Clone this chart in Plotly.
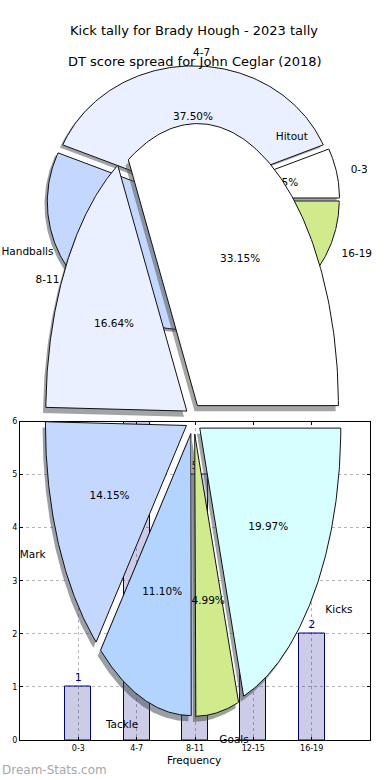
import numpy as np
import plotly.graph_objects as go

# ---------------- data ----------------
bar_categories = ["0-3", "4-7", "8-11", "12-15", "16-19"]
bar_values = [1, 6, 5, 2, 2]

dt_labels = ["0-3", "4-7", "8-11", "12-15", "16-19"]
dt_values = [1, 6, 5, 2, 2]

stat_labels = ["Hitout", "Handballs", "Mark", "Tackle", "Goals", "Kicks"]
stat_values = [33.15, 16.64, 14.15, 11.10, 4.99, 19.97]

title_main = "Kick tally for Brady Hough - 2023 tally"
title_pie = "DT score spread for John Ceglar (2018)"
x_title = "Frequency"
watermark = "Dream-Stats.com"

wedge_colors = ["#ffffff", "#eaf0ff", "#c4d8ff", "#b3d4ff", "#d0ea8c", "#d8ffff"]

FONT = "DejaVu Sans"
W, H = 390, 780

fig = go.Figure()

# ---------------- bar chart (bottom axes) ----------------
fig.add_trace(go.Bar(
    x=bar_categories, y=bar_values, width=0.45,
    marker=dict(color="rgba(0,0,128,0.2)", line=dict(color="#000080", width=1)),
    hoverinfo="skip", showlegend=False, xaxis="x", yaxis="y"))
fig.add_trace(go.Scatter(
    x=bar_categories, y=[v + 0.06 for v in bar_values], mode="text",
    text=[str(v) for v in bar_values], textposition="top center",
    textfont=dict(family=FONT, size=11, color="#000080"),
    cliponaxis=False, showlegend=False, hoverinfo="skip", xaxis="x", yaxis="y"))


def hex_rgb(h):
    h = h.lstrip("#")
    return tuple(int(h[i:i + 2], 16) for i in (0, 2, 4))


def add_pie(values, labels, colors, cx, cy, rx, ry, explode):
    fr = np.array(values, dtype=float) / float(sum(values))
    edges = np.concatenate([[0.0], np.cumsum(fr)])
    polys = []
    lab_x, lab_y, lab_pos, pct_x, pct_y, pct_t = [], [], [], [], [], []
    for i in range(len(values)):
        t1, t2 = 2 * np.pi * edges[i], 2 * np.pi * edges[i + 1]
        tm = 0.5 * (t1 + t2)
        ox = explode * rx * np.cos(tm)
        oy = -explode * ry * np.sin(tm)
        th = np.linspace(t1, t2, 120)
        xs = np.concatenate([[cx + ox], cx + ox + rx * np.cos(th), [cx + ox]])
        ys = np.concatenate([[cy + oy], cy + oy - ry * np.sin(th), [cy + oy]])
        polys.append((xs, ys, colors[i % len(colors)]))
        xt = 1.1 * np.cos(tm)
        lab_x.append(cx + ox + 1.1 * rx * np.cos(tm))
        lab_y.append(cy + oy - 1.1 * ry * np.sin(tm))
        lab_pos.append("middle right" if xt > 0 else "middle left")
        pct_x.append(cx + ox + 0.6 * rx * np.cos(tm))
        pct_y.append(cy + oy - 0.6 * ry * np.sin(tm))
        pct_t.append("%1.2f%%" % (100 * fr[i]))
    sx, sy = -0.02 * rx, 0.02 * ry
    for xs, ys, col in polys:
        r, g, b = hex_rgb(col)
        fig.add_trace(go.Scatter(
            x=xs + sx, y=ys + sy, mode="lines", fill="toself",
            fillcolor="rgba(%d,%d,%d,0.5)" % (0.3 * r, 0.3 * g, 0.3 * b),
            line=dict(width=0, color="rgba(0,0,0,0)"),
            hoverinfo="skip", showlegend=False, xaxis="x2", yaxis="y2"))
    for xs, ys, col in polys:
        fig.add_trace(go.Scatter(
            x=xs, y=ys, mode="lines", fill="toself", fillcolor=col,
            line=dict(width=1, color="#111111"),
            hoverinfo="skip", showlegend=False, xaxis="x2", yaxis="y2"))
    fig.add_trace(go.Scatter(
        x=lab_x, y=lab_y, mode="text", text=labels, textposition=lab_pos,
        textfont=dict(family=FONT, size=10.5, color="black"),
        hoverinfo="skip", showlegend=False, xaxis="x2", yaxis="y2"))
    fig.add_trace(go.Scatter(
        x=pct_x, y=pct_y, mode="text", text=pct_t, textposition="middle center",
        textfont=dict(family=FONT, size=10.5, color="black"),
        hoverinfo="skip", showlegend=False, xaxis="x2", yaxis="y2"))


add_pie(dt_values, dt_labels, wedge_colors, 193, 199, 141, 128, 0.04)
add_pie(stat_values, stat_labels, wedge_colors, 193.5, 419, 141, 282, 0.055)

# ---------------- layout ----------------
ax_left, ax_right, ax_top, ax_bottom = 20, 370, 421.5, 740

fig.update_layout(
    width=W, height=H, autosize=False,
    margin=dict(l=0, r=0, t=0, b=0, pad=0, autoexpand=False),
    paper_bgcolor="white", plot_bgcolor="rgba(0,0,0,0)",
    font=dict(family=FONT, color="black"),
    bargap=0,
    xaxis=dict(
        domain=[ax_left / W, ax_right / W], range=[-1, 5], type="category",
        showline=True, mirror="ticks", linecolor="black", linewidth=1,
        ticks="inside", ticklen=3, tickcolor="black", tickwidth=0.6,
        showgrid=True, gridcolor="#b4b4b4", griddash="dot", gridwidth=1,
        tickfont=dict(family=FONT, size=8, color="black"),
        zeroline=False, fixedrange=True, anchor="y", automargin=False),
    yaxis=dict(
        domain=[(H - ax_bottom) / H, (H - ax_top) / H], range=[0, 6], dtick=1,
        showline=True, mirror="ticks", linecolor="black", linewidth=1,
        ticks="inside", ticklen=3, tickcolor="black", tickwidth=0.6,
        showgrid=True, gridcolor="#b4b4b4", griddash="dot", gridwidth=1,
        tickfont=dict(family=FONT, size=8, color="black"),
        zeroline=False, fixedrange=True, anchor="x", automargin=False),
    xaxis2=dict(domain=[0, 1], range=[0, W], visible=False, fixedrange=True,
                anchor="y2", automargin=False),
    yaxis2=dict(domain=[0, 1], range=[H, 0], visible=False, fixedrange=True,
                anchor="x2", automargin=False),
    annotations=[
        dict(text=title_main, x=194, y=30, xref="x2", yref="y2", showarrow=False,
             font=dict(family=FONT, size=13, color="black"), xanchor="center", yanchor="middle"),
        dict(text=title_pie, x=195, y=61, xref="x2", yref="y2", showarrow=False,
             font=dict(family=FONT, size=13, color="black"), xanchor="center", yanchor="middle"),
        dict(text=x_title, x=194, y=760, xref="x2", yref="y2", showarrow=False,
             font=dict(family=FONT, size=10.5, color="black"), xanchor="center", yanchor="middle"),
        dict(text=watermark, x=0, y=770, xref="x2", yref="y2", showarrow=False,
             font=dict(family=FONT, size=12, color="#a8a8a8"), xanchor="left", yanchor="middle"),
    ],
)

fig.write_html(
    "out.html",
    config={"displayModeBar": False, "responsive": False},
    post_script="document.body.style.margin='0';document.body.style.padding='0';"
                "document.documentElement.style.overflow='hidden';",
)
